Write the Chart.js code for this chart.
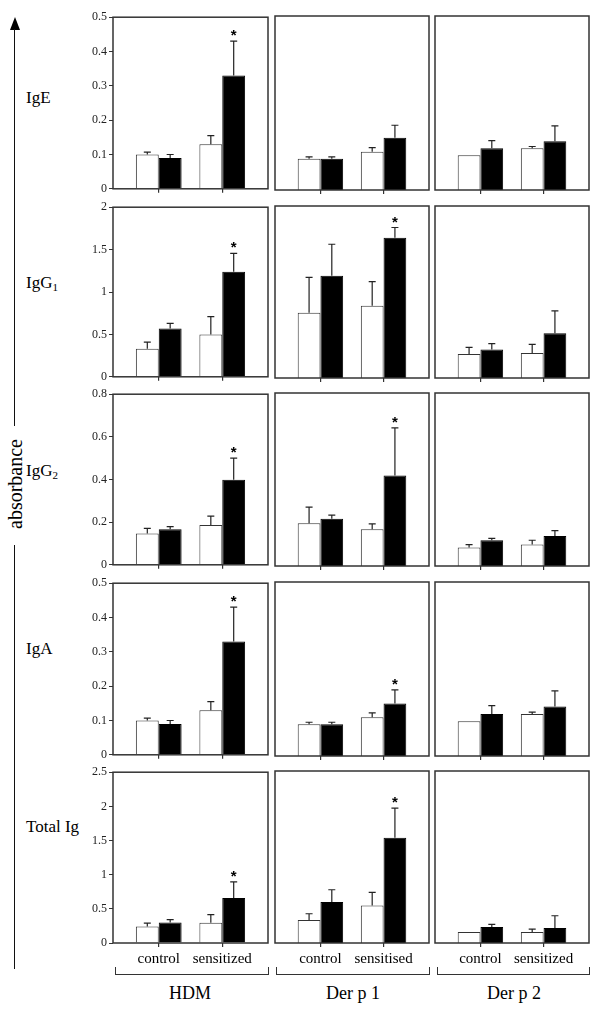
<!DOCTYPE html>
<html>
<head>
<meta charset="utf-8">
<script src="https://cdn.jsdelivr.net/npm/chart.js@4.4.1/dist/chart.umd.min.js"></script>
<style>
  body { margin: 0; background: #fff; }
  #page { position: relative; width: 600px; height: 1010px; overflow: hidden;
          font-family: "Liberation Serif", "Times New Roman", serif; color: #000; }
  canvas { position: absolute; }
  .row-lbl { position: absolute; left: 26px; font-size: 17px; line-height: 17px; white-space: nowrap; }
  .row-lbl sub { font-size: 11px; vertical-align: -3px; line-height: 0; }
  .vline { position: absolute; left: 14px; width: 0; border-left: 1.5px solid #111; }
  .bracket { position: absolute; top: 967px; height: 7px; border: 1.5px solid #333; border-top: none; }
  .ag-lbl { position: absolute; top: 984px; width: 120px; margin-left: -60px; text-align: center;
            font-size: 18px; line-height: 18px; }
</style>
</head>
<body>
<div id="page">
  <div style="position:absolute;left:9.5px;top:17px;width:0;height:0;border-left:5.5px solid transparent;border-right:5.5px solid transparent;border-bottom:13px solid #000;"></div>
  <div class="vline" style="top:29px;height:397px;"></div>
  <div style="position:absolute;left:15px;top:484px;transform:translate(-50%,-50%) rotate(-90deg);font-size:20px;line-height:20px;white-space:nowrap;">absorbance</div>
  <div class="vline" style="top:545px;height:424px;"></div>

  <div class="row-lbl" style="top:89px;">IgE</div>
  <div class="row-lbl" style="top:274px;">IgG<sub>1</sub></div>
  <div class="row-lbl" style="top:462px;">IgG<sub>2</sub></div>
  <div class="row-lbl" style="top:640px;">IgA</div>
  <div class="row-lbl" style="top:818px;">Total Ig</div>

  <div class="bracket" style="left:115px;width:152px;"></div>
  <div class="bracket" style="left:276px;width:152px;"></div>
  <div class="bracket" style="left:437px;width:151px;"></div>
  <div class="ag-lbl" style="left:190px;">HDM</div>
  <div class="ag-lbl" style="left:353px;">Der p 1</div>
  <div class="ag-lbl" style="left:514px;">Der p 2</div>
</div>
<script>
const antigens = ['HDM', 'Der p 1', 'Der p 2'];
const groupLabels = [['control', 'sensitized'], ['control', 'sensitised'], ['control', 'sensitized']];
const isotypes = ['IgE', 'IgG1', 'IgG2', 'IgA', 'Total Ig'];
const yMax = [0.5, 2, 0.8, 0.5, 2.5];
const yStep = [0.1, 0.5, 0.2, 0.1, 0.5];

// each entry is one antigen: [control, sensitized]
const igeOpen      = [[0.10, 0.13], [0.09, 0.11], [0.10, 0.12]];
const igeFilled    = [[0.09, 0.33], [0.09, 0.15], [0.12, 0.14]];
const igeOpenErr   = [[0.107, 0.155], [0.095, 0.122], [null, 0.125]];
const igeFilledErr = [[0.100, 0.43], [0.095, 0.186], [0.142, 0.184]];
const igeStar      = [true, false, false];

const igg1Open      = [[0.33, 0.50], [0.76, 0.84], [0.28, 0.29]];
const igg1Filled    = [[0.57, 1.24], [1.19, 1.63], [0.33, 0.52]];
const igg1OpenErr   = [[0.41, 0.71], [1.17, 1.12], [0.355, 0.39]];
const igg1FilledErr = [[0.63, 1.455], [1.555, 1.75], [0.40, 0.78]];
const igg1Star      = [true, true, false];

const igg2Open      = [[0.147, 0.187], [0.198, 0.170], [0.085, 0.099]];
const igg2Filled    = [[0.167, 0.399], [0.219, 0.418], [0.119, 0.139]];
const igg2OpenErr   = [[0.171, 0.228], [0.272, 0.195], [0.099, 0.119]];
const igg2FilledErr = [[0.179, 0.50], [0.235, 0.639], [0.128, 0.164]];
const igg2Star      = [true, true, false];

const igaOpen      = [[0.10, 0.13], [0.091, 0.111], [0.10, 0.121]];
const igaFilled    = [[0.09, 0.33], [0.091, 0.151], [0.121, 0.142]];
const igaOpenErr   = [[0.107, 0.155], [0.097, 0.124], [null, 0.126]];
const igaFilledErr = [[0.10, 0.43], [0.097, 0.19], [0.145, 0.187]];
const igaStar      = [true, true, false];

const totOpen      = [[0.241, 0.295], [0.334, 0.546], [0.16, 0.16]];
const totFilled    = [[0.299, 0.657], [0.595, 1.53], [0.232, 0.218]];
const totOpenErr   = [[0.29, 0.415], [0.425, 0.735], [null, 0.203]];
const totFilledErr = [[0.343, 0.895], [0.774, 1.96], [0.27, 0.396]];
const totStar      = [true, true, false];

const rows = [
  [igeOpen, igeFilled, igeOpenErr, igeFilledErr, igeStar],
  [igg1Open, igg1Filled, igg1OpenErr, igg1FilledErr, igg1Star],
  [igg2Open, igg2Filled, igg2OpenErr, igg2FilledErr, igg2Star],
  [igaOpen, igaFilled, igaOpenErr, igaFilledErr, igaStar],
  [totOpen, totFilled, totOpenErr, totFilledErr, totStar]
];

// frame positions of the panels
const colLeft = [113, 275, 435];
const colWidth = [155, 154, 154];
const rowTop = [16, 206, 393, 582, 771];
const rowHeight = [174, 172, 173, 174, 172];

const SERIF = '"Liberation Serif", "Times New Roman", serif';

const errPlugin = {
  id: 'errs',
  afterDatasetsDraw(chart) {
    const ctx = chart.ctx, ys = chart.scales.y;
    ctx.save();
    ctx.strokeStyle = '#222';
    ctx.lineWidth = 1.2;
    ctx.fillStyle = '#000';
    ctx.font = 'bold 15px "Liberation Sans", Arial, sans-serif';
    ctx.textAlign = 'center';
    ctx.textBaseline = 'alphabetic';
    chart.data.datasets.forEach((ds, di) => {
      chart.getDatasetMeta(di).data.forEach((bar, i) => {
        const e = ds.errs[i];
        if (e == null) return;
        const top = ys.getPixelForValue(e);
        ctx.beginPath();
        ctx.moveTo(bar.x, bar.y);
        ctx.lineTo(bar.x, top);
        ctx.moveTo(bar.x - 3.5, top);
        ctx.lineTo(bar.x + 3.5, top);
        ctx.stroke();
        if (ds.stars && ds.stars[i]) ctx.fillText('*', bar.x, top - 1);
      });
    });
    const a = chart.chartArea;
    ctx.strokeStyle = '#333';
    ctx.lineWidth = 1.5;
    ctx.strokeRect(a.left, a.top, a.right - a.left, a.bottom - a.top);
    ctx.restore();
  }
};

const page = document.getElementById('page');

rows.forEach((r, ri) => {
  const [open, filled, openErr, filledErr, star] = r;
  antigens.forEach((ag, ci) => {
    const padL = ci === 0 ? 45 : 4;
    const padR = 3, padT = 8;
    const padB = ri === rows.length - 1 ? 28 : 8;
    const w = colWidth[ci] + padL + padR;
    const h = rowHeight[ri] + padT + padB;
    const cv = document.createElement('canvas');
    cv.width = w; cv.height = h;
    cv.style.left = (colLeft[ci] - padL) + 'px';
    cv.style.top = (rowTop[ri] - padT) + 'px';
    cv.style.width = w + 'px'; cv.style.height = h + 'px';
    page.appendChild(cv);

    new Chart(cv, {
      type: 'bar',
      data: {
        datasets: [{
          data: open[ci].map((v, i) => ({ x: i, y: v })),
          errs: openErr[ci],
          backgroundColor: '#fff',
          borderColor: '#333',
          borderWidth: 1
        }, {
          data: filled[ci].map((v, i) => ({ x: i, y: v })),
          errs: filledErr[ci],
          stars: [false, star[ci]],
          backgroundColor: '#000',
          borderColor: '#000',
          borderWidth: 1
        }]
      },
      options: {
        responsive: false,
        animation: false,
        events: [],
        layout: { padding: { top: padT, right: padR, left: 0, bottom: 0 } },
        plugins: { legend: { display: false }, tooltip: { enabled: false } },
        datasets: { bar: { categoryPercentage: 0.72, barPercentage: 1 } },
        scales: {
          x: {
            type: 'linear',
            offset: false,
            bounds: 'data',
            min: -0.72,
            max: 1.72,
            afterBuildTicks: s => { s.ticks = [{ value: 0 }, { value: 1 }]; },
            afterFit: s => { s.height = padB; },
            border: { display: false },
            grid: { offset: false, drawOnChartArea: false, drawTicks: true, tickLength: 4, tickColor: '#333', lineWidth: 1.2 },
            ticks: {
              display: ri === rows.length - 1,
              padding: 3,
              color: '#000',
              font: { family: SERIF, size: 15 },
              callback: (v, i) => groupLabels[ci][i]
            }
          },
          y: {
            min: 0,
            max: yMax[ri],
            afterFit: s => { s.width = padL; },
            border: { display: false },
            grid: {
              display: ci === 0,
              drawOnChartArea: false, drawTicks: true, tickLength: 4, tickColor: '#333', lineWidth: 1
            },
            ticks: {
              display: ci === 0,
              stepSize: yStep[ri],
              padding: 2,
              color: '#222',
              font: { family: SERIF, size: 12 },
              callback: v => String(Math.round(v * 100) / 100)
            }
          }
        }
      },
      plugins: [errPlugin]
    });
  });
});
</script>
</body>
</html>
